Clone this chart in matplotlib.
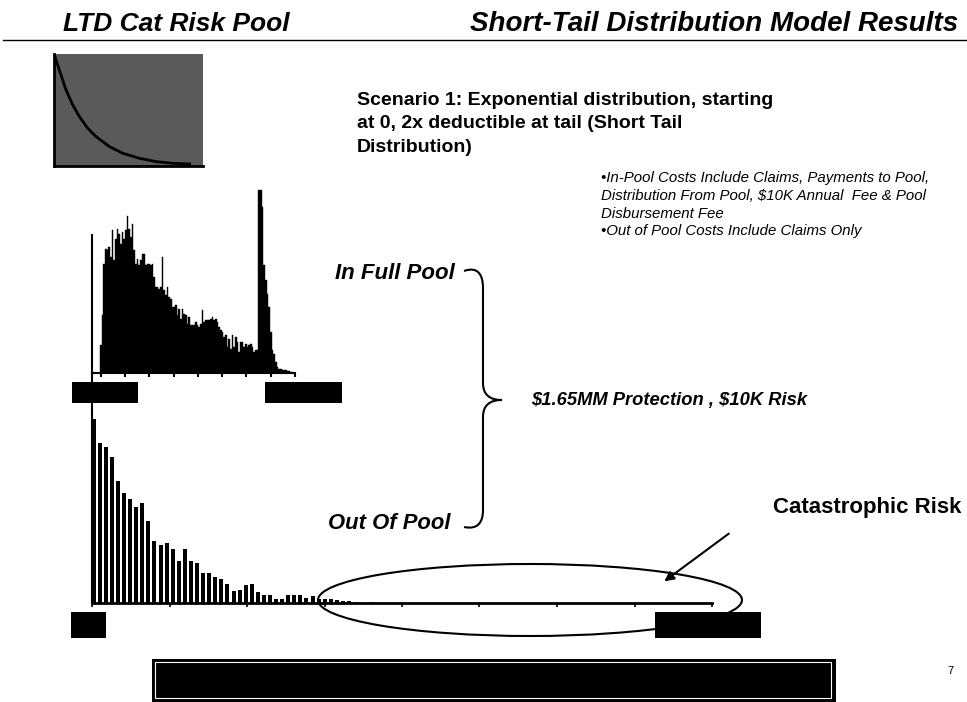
import numpy as np
import matplotlib
matplotlib.use('Agg')
import matplotlib.pyplot as plt
from matplotlib.patches import Rectangle, Ellipse, PathPatch
from matplotlib.path import Path

# datos leidos de la imagen
# curva exponencial del recuadro (fraccion del eje)
curva_x = [0.0, 0.034, 0.079, 0.124, 0.169, 0.225, 0.281, 0.371, 0.461, 0.573, 0.685, 0.798, 0.910]
curva_y = [1.0, 0.865, 0.685, 0.55, 0.444, 0.339, 0.264, 0.174, 0.114, 0.069, 0.039, 0.024, 0.018]

# histograma "In Full Pool" (frecuencias)
pool_frec = [83, 173, 328, 373, 368, 378, 348, 428, 338, 403, 433, 418, 388, 423, 403, 428,
             471, 433, 408, 448, 368, 328, 343, 323, 338, 358, 358, 323, 328, 328, 323, 328,
             288, 258, 258, 253, 258, 348, 248, 233, 258, 228, 223, 198, 198, 203, 173, 193,
             163, 193, 178, 173, 148, 168, 143, 143, 143, 153, 143, 138, 148, 188, 153, 158,
             158, 158, 163, 168, 158, 163, 153, 138, 128, 123, 108, 113, 78, 103, 73, 113,
             78, 108, 93, 63, 93, 93, 78, 88, 78, 83, 88, 78, 63, 68, 68, 548, 548, 498,
             323, 278, 238, 198, 123, 68, 58, 33, 18, 13, 13, 8, 8, 8, 6, 6, 4, 2]

# histograma "Out Of Pool" (frecuencias)
fuera_frec = [184, 160, 156, 146, 122, 110, 104, 96, 100, 82, 62, 58, 60, 54, 42, 54, 42, 40,
              30, 30, 26, 24, 19, 12, 13, 18, 19, 11, 8, 8, 4, 4, 8, 8, 8, 5, 7, 4, 4, 4, 3,
              2, 2, 1, 0, 0, 1]

escenario = ['Scenario 1: Exponential distribution, starting',
             'at 0, 2x deductible at tail (Short Tail',
             'Distribution)']
notas = ['•In-Pool Costs Include Claims, Payments to Pool,',
         'Distribution From Pool, \\$10K Annual  Fee & Pool',
         'Disbursement Fee',
         '•Out of Pool Costs Include Claims Only']

W, H = 967, 702
fig = plt.figure(figsize=(W / 100, H / 100), dpi=100)
fig.patch.set_facecolor('white')

def ejes_px(x0, y0, x1, y1):
    return fig.add_axes([x0 / W, 1 - y1 / H, (x1 - x0) / W, (y1 - y0) / H])

# --- recuadro con la exponencial ---
ax_in = ejes_px(54, 54, 203, 166)
ax_in.set_facecolor('#5a5a5a')
ax_in.plot(curva_x, curva_y, color='black', lw=2)
ax_in.set_xlim(0, 1)
ax_in.set_ylim(0, 1)
ax_in.set_xticks([])
ax_in.set_yticks([])
for s in ['top', 'right']:
    ax_in.spines[s].set_visible(False)
for s in ['left', 'bottom']:
    ax_in.spines[s].set_linewidth(2)

# --- histograma superior ---
ax_up = ejes_px(92, 235, 295, 373)
xs = np.arange(len(pool_frec)) + 0.5
ax_up.bar(xs, pool_frec, width=1.0, color='black', edgecolor='black', lw=0.3, clip_on=False)
ax_up.set_xlim(-4.8, 117)
ax_up.set_ylim(0, 414)
ax_up.set_xticks(0.42 + 14.58 * np.arange(9))
ax_up.set_xticklabels([])
ax_up.set_yticks([])
ax_up.tick_params(axis='x', direction='out', length=3, width=1.5)
for s in ['top', 'right']:
    ax_up.spines[s].set_visible(False)
ax_up.spines['left'].set_linewidth(1.5)
ax_up.spines['bottom'].set_linewidth(1.5)
ax_up.set_facecolor('none')

# --- histograma inferior ---
ax_lo = ejes_px(92, 375, 712, 603)
xl = np.arange(len(fuera_frec))
ax_lo.bar(xl, fuera_frec, width=0.66, color='black')
ax_lo.set_xlim(-0.28, 101.7)
ax_lo.set_ylim(0, 228)
ax_lo.set_xticks(-0.28 + 12.75 * np.arange(9))
ax_lo.set_xticklabels([])
ax_lo.set_yticks([])
ax_lo.tick_params(axis='x', direction='out', length=3, width=1.2)
for s in ['top', 'right']:
    ax_lo.spines[s].set_visible(False)
ax_lo.spines['left'].set_linewidth(1.5)
ax_lo.spines['bottom'].set_linewidth(2)
ax_lo.set_facecolor('none')

# --- capa de anotaciones en pixeles ---
ax = fig.add_axes([0, 0, 1, 1], zorder=5)
ax.set_xlim(0, W)
ax.set_ylim(H, 0)
ax.axis('off')
ax.patch.set_alpha(0)

fam = ['Liberation Sans', 'DejaVu Sans']

ax.text(63, 31, 'LTD Cat Risk Pool', family=fam, fontsize=19, weight='bold',
        style='italic', ha='left', va='baseline')
ax.text(958, 31, 'Short-Tail Distribution Model Results', family=fam, fontsize=20,
        weight='bold', style='italic', ha='right', va='baseline')
ax.plot([3, 967], [39.5, 39.5], color='black', lw=1)

for i, linea in enumerate(escenario):
    ax.text(357, 105 + 23.5 * i, linea, family=fam, fontsize=14, weight='bold',
            ha='left', va='baseline')

for i, linea in enumerate(notas):
    ax.text(601, 182 + 17.8 * i, linea, family=fam, fontsize=10.8, style='italic',
            ha='left', va='baseline')

ax.text(455, 279, 'In Full Pool', family=fam, fontsize=16, weight='bold', style='italic',
        ha='right', va='baseline')
ax.text(451, 529, 'Out Of Pool', family=fam, fontsize=15.8, weight='bold', style='italic',
        ha='right', va='baseline')
ax.text(531, 405, '\\$1.65MM Protection , \\$10K Risk', family=fam, fontsize=13.2, weight='bold',
        style='italic', ha='left', va='baseline')
ax.text(773, 513, 'Catastrophic Risk', family=fam, fontsize=16, weight='bold',
        ha='left', va='baseline')
ax.text(947, 674, '7', family=fam, fontsize=8, ha='left', va='baseline')

# llave
verts = [(464, 271), (478, 266), (483, 275), (483, 288),
         (483, 383),
         (483, 395), (490, 400), (502, 400),
         (490, 400), (483, 405), (483, 417),
         (483, 510),
         (483, 522), (478, 530), (464, 527)]
codes = [Path.MOVETO, Path.CURVE4, Path.CURVE4, Path.CURVE4,
         Path.LINETO,
         Path.CURVE4, Path.CURVE4, Path.CURVE4,
         Path.CURVE4, Path.CURVE4, Path.CURVE4,
         Path.LINETO,
         Path.CURVE4, Path.CURVE4, Path.CURVE4]
ax.add_patch(PathPatch(Path(verts, codes), fill=False, lw=1.5, color='black'))

# elipse y flecha
ax.add_patch(Ellipse((530, 600), 424, 72, fill=False, lw=1.5, color='black'))
ax.annotate('', xy=(662, 583), xytext=(731, 532),
            arrowprops=dict(arrowstyle='-|>', lw=1.5, color='black', mutation_scale=14))

# recuadros negros (etiquetas tapadas)
for (x0, y0, x1, y1) in [(72, 382, 138, 403), (265, 382, 342, 403),
                         (71, 612, 106, 638), (655, 612, 761, 638)]:
    ax.add_patch(Rectangle((x0, y0), x1 - x0, y1 - y0, color='black', lw=0))

ax.add_patch(Rectangle((152, 659), 684, 43, color='black', lw=0))
ax.add_patch(Rectangle((154.5, 661.5), 676, 36, fill=False, edgecolor='white', lw=0.8))

fig.savefig('out.png', dpi=100, facecolor='white')
